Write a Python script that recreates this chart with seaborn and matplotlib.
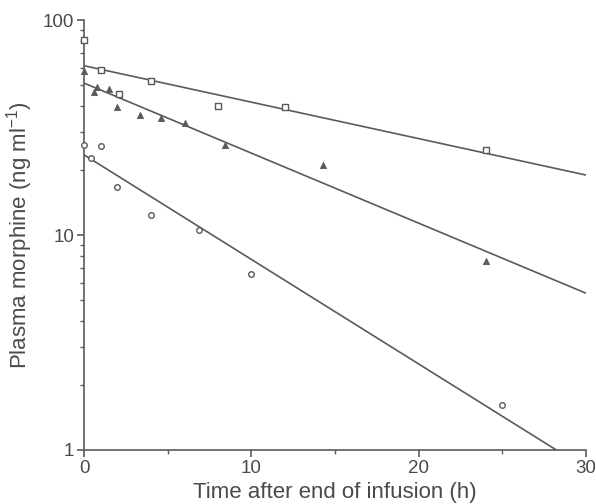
import numpy as np
import pandas as pd
import matplotlib
matplotlib.use("Agg")
import matplotlib.pyplot as plt
import matplotlib.ticker as mticker
import seaborn as sns

# Data
sq_t = [0, 1.0, 2.1, 4.0, 8.0, 12.0, 24.0]
sq_c = [80.7, 58.5, 45.1, 52.0, 39.8, 39.3, 24.8]

tri_t = [0, 0.6, 0.8, 1.5, 2.0, 3.35, 4.6, 6.05, 8.45, 14.3, 24.0]
tri_c = [58.0, 46.4, 48.6, 47.6, 39.3, 36.1, 35.0, 33.3, 26.1, 21.2, 7.57]

cir_t = [0, 0.4, 1.0, 2.0, 4.0, 6.9, 10.0, 25.0]
cir_c = [26.2, 22.9, 25.9, 16.7, 12.4, 10.5, 6.59, 1.62]

# Fitted lines (values at t = 0 and t = 30)
fit_t = [0, 30]
sq_fit = [61.3, 19.0]
tri_fit = [50.9, 5.36]
cir_fit = [23.6, 0.82]

x_ticks = [0, 10, 20, 30]
y_ticks = [1, 10, 100]
y_ticklabels = ["1", "10", "100"]

sns.set_style("ticks")
plt.rcParams['font.family'] = ['Liberation Sans', 'DejaVu Sans']
plt.rcParams['mathtext.fontset'] = 'custom'
plt.rcParams['mathtext.rm'] = 'Liberation Sans'
plt.rcParams['mathtext.default'] = 'regular'
plt.rcParams['xtick.bottom'] = True
plt.rcParams['ytick.left'] = True
plt.rcParams['xtick.minor.visible'] = True
plt.rcParams['ytick.minor.visible'] = True

grey = "#5a5a5a"
txt = "#4a4a4a"

fig = plt.figure(figsize=(5.96, 5.04), dpi=100)
ax = fig.add_axes([84/596, 1-450/504, (586-84)/596, (450-20)/504])

for fit in (sq_fit, tri_fit, cir_fit):
    sns.lineplot(x=fit_t, y=fit, ax=ax, color=grey, lw=1.2, legend=False)

pts = pd.concat([
    pd.DataFrame({"t": sq_t, "c": sq_c, "g": "sq"}),
    pd.DataFrame({"t": tri_t, "c": tri_c, "g": "tri"}),
    pd.DataFrame({"t": cir_t, "c": cir_c, "g": "cir"}),
])

sub = pts[pts.g == "sq"]
sns.scatterplot(data=sub, x="t", y="c", marker="s", s=16, facecolor="white",
                edgecolor=grey, linewidth=1.0, ax=ax, zorder=5, clip_on=False)
sub = pts[pts.g == "tri"]
sns.scatterplot(data=sub, x="t", y="c", marker="^", s=20, color=grey,
                edgecolor=grey, linewidth=0.6, ax=ax, zorder=5, clip_on=False)
sub = pts[pts.g == "cir"]
sns.scatterplot(data=sub, x="t", y="c", marker="o", s=16, facecolor="white",
                edgecolor=grey, linewidth=1.0, ax=ax, zorder=5, clip_on=False)

ax.set_yscale("log")
ax.set_xlim(0, 30)
ax.set_ylim(1, 100)
ax.xaxis.set_major_locator(mticker.FixedLocator(x_ticks))
ax.xaxis.set_minor_locator(mticker.FixedLocator([5, 15, 25]))
ax.yaxis.set_major_locator(mticker.FixedLocator(y_ticks))
ax.yaxis.set_major_formatter(mticker.FixedFormatter(y_ticklabels))
ax.yaxis.set_minor_locator(mticker.LogLocator(base=10, subs=np.arange(2, 10)))
ax.yaxis.set_minor_formatter(mticker.NullFormatter())

for s in ["top", "right"]:
    ax.spines[s].set_visible(False)
for s in ["left", "bottom"]:
    ax.spines[s].set_color(grey)
    ax.spines[s].set_linewidth(1.2)

ax.tick_params(axis="both", which="major", length=5, width=1.2, color=grey,
               labelsize=13.5, labelcolor=txt, direction="out", pad=2,
               bottom=True, left=True)
ax.tick_params(axis="both", which="minor", length=3, width=1.0, color=grey,
               direction="out", bottom=True, left=True)

ax.set_xlabel("Time after end of infusion (h)", fontsize=16, color=txt, labelpad=4)
ax.set_ylabel("Plasma morphine (ng ml$^{-1}$)", fontsize=16, color=txt, labelpad=6)

fig.savefig("out.png", dpi=100)
